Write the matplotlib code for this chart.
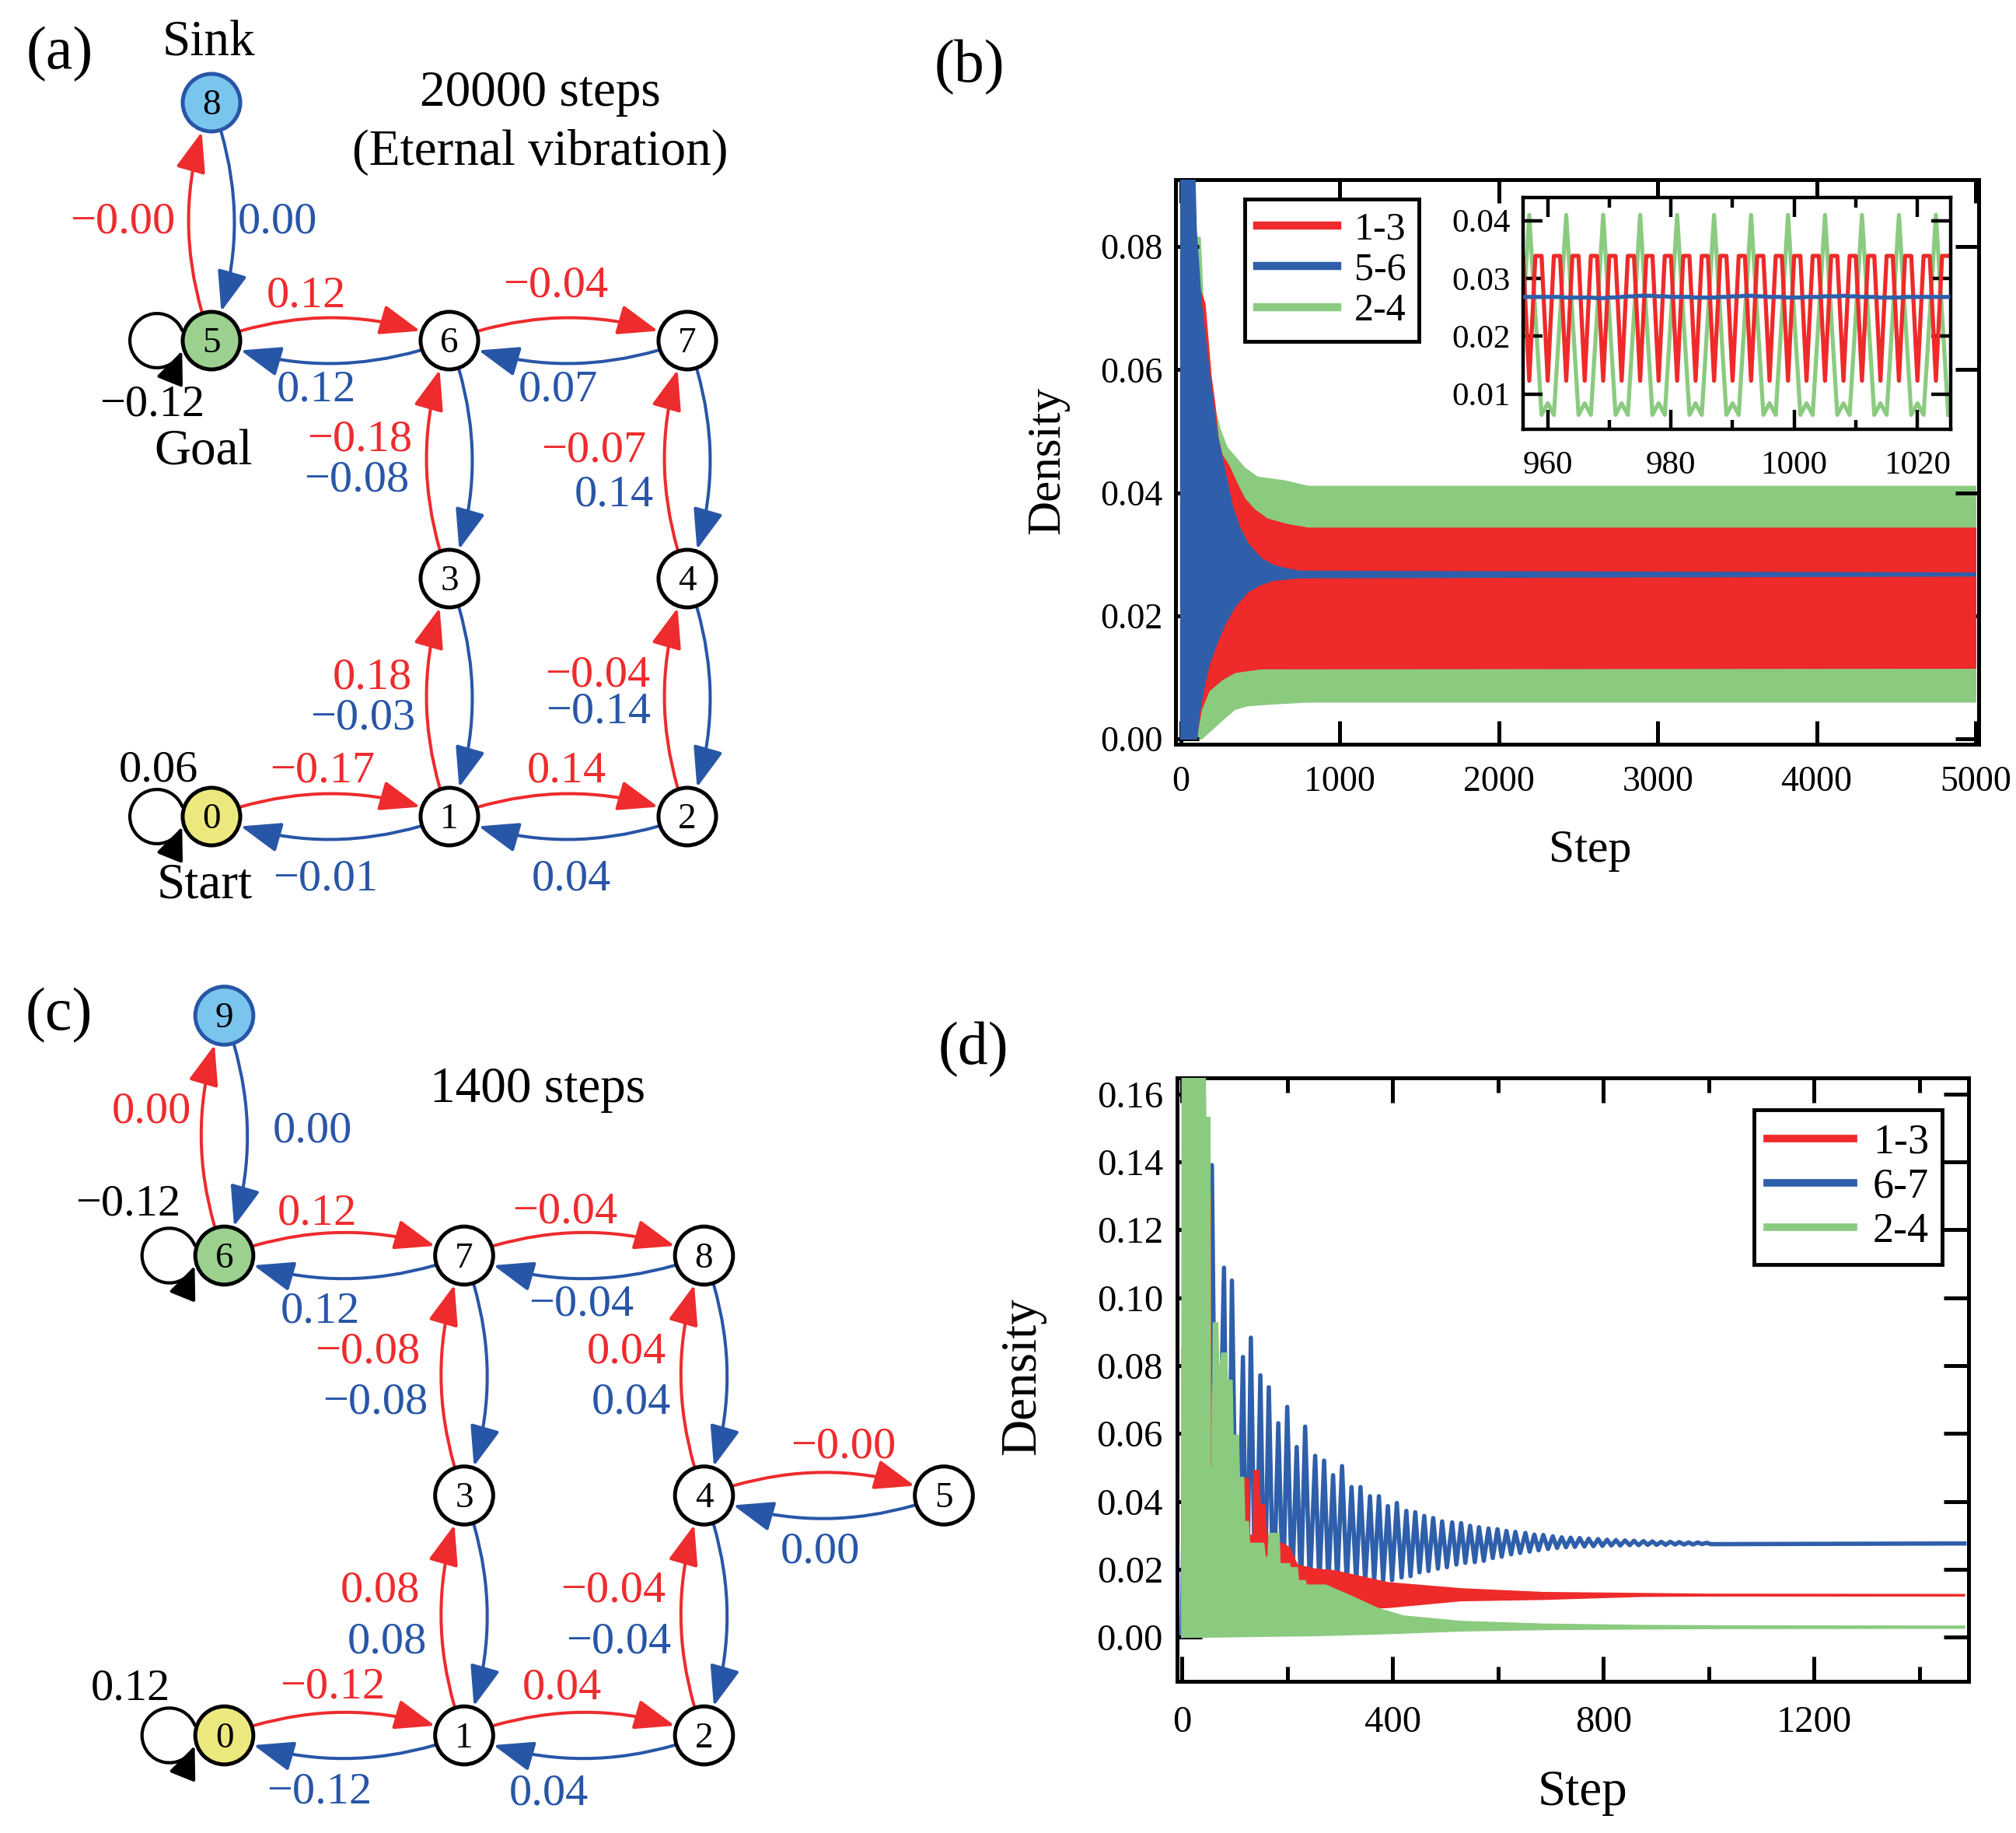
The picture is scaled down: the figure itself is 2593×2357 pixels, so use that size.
import numpy as np
import matplotlib
matplotlib.use('Agg')
import matplotlib.pyplot as plt
from matplotlib.patches import Circle, FancyArrowPatch
from matplotlib.path import Path
from matplotlib.transforms import Affine2D
from matplotlib.lines import Line2D
from matplotlib.ticker import FormatStrFormatter

plt.rcParams['font.family'] = ['Liberation Serif', 'DejaVu Serif']

# ------------------------------------------------------------------ data
# (a) network, 20000 steps: red = i -> j, blue = j -> i
a_edges = [(0, 1), (1, 2), (1, 3), (2, 4), (3, 6), (4, 7), (5, 6), (6, 7), (5, 8)]
a_red = [-0.17, 0.14, 0.18, -0.04, -0.18, -0.07, 0.12, -0.04, -0.0]
a_blue = [-0.01, 0.04, -0.03, -0.14, -0.08, 0.14, 0.12, 0.07, 0.0]
a_loops = [(0, 0.06), (5, -0.12)]

# (c) network, 1400 steps
c_edges = [(0, 1), (1, 2), (1, 3), (2, 4), (3, 7), (4, 8), (4, 5), (6, 7), (7, 8), (6, 9)]
c_red = [-0.12, 0.04, 0.08, -0.04, -0.08, 0.04, -0.0, 0.12, -0.04, 0.0]
c_blue = [-0.12, 0.04, 0.08, -0.04, -0.08, 0.04, 0.0, 0.12, -0.04, 0.0]
c_loops = [(0, 0.12), (6, -0.12)]

# (b) envelopes of the densely oscillating densities (step, density)
b_blue_up_x = [0, 83, 95, 127, 176, 225, 274, 323, 372, 421, 503, 584, 666, 748, 5000]
b_blue_up_y = [0.095, 0.095, 0.0827, 0.0707, 0.0599, 0.0497, 0.0437, 0.0377, 0.0341,
               0.0317, 0.0293, 0.0281, 0.0276, 0.0272, 0.0269]
b_blue_lo_x = [0, 100, 111, 143, 176, 225, 274, 339, 421, 503, 584, 748, 5000]
b_blue_lo_y = [0.0, 0.0, 0.0036, 0.0083, 0.012, 0.0155, 0.0185, 0.0215, 0.0239,
               0.0251, 0.0258, 0.0262, 0.0265]
b_red_up_x = [0, 100, 110, 150, 188, 213, 233, 258, 302, 355, 400, 462, 543, 666, 800, 5000]
b_red_up_y = [0.08, 0.08, 0.0737, 0.0707, 0.059, 0.0542, 0.0488, 0.0461, 0.0443, 0.0413,
              0.039, 0.0372, 0.0357, 0.0348, 0.0342, 0.0342]
b_red_lo_x = [0, 95, 127, 176, 258, 339, 503, 5000]
b_red_lo_y = [0.0, 0.0, 0.0047, 0.0078, 0.0096, 0.0108, 0.0114, 0.0115]
b_green_up_x = [0, 90, 120, 150, 200, 245, 290, 350, 400, 480, 650, 800, 5000]
b_green_up_y = [0.0, 0.0815, 0.0815, 0.065, 0.055, 0.0503, 0.0473, 0.0455, 0.044,
                0.0425, 0.0419, 0.041, 0.041]
b_green_lo_x = [0, 130, 258, 339, 421, 584, 800, 5000]
b_green_lo_y = [0.0, 0.0, 0.003, 0.0048, 0.0054, 0.0057, 0.006, 0.006]
b_legend = ['1-3', '5-6', '2-4']

# (b) inset, steps 956..1025
in_steps = np.arange(956, 1026)
in_red = [0.0339, 0.0123,
          0.0339, 0.0339, 0.0123, 0.0339, 0.0339, 0.0123,
          0.0339, 0.0339, 0.0123, 0.0339, 0.0339, 0.0123,
          0.0339, 0.0339, 0.0123, 0.0339, 0.0339, 0.0123,
          0.0339, 0.0339, 0.0123, 0.0339, 0.0339, 0.0123,
          0.0339, 0.0339, 0.0123, 0.0339, 0.0339, 0.0123,
          0.0339, 0.0339, 0.0123, 0.0339, 0.0339, 0.0123,
          0.0339, 0.0339, 0.0123, 0.0339, 0.0339, 0.0123,
          0.0339, 0.0339, 0.0123, 0.0339, 0.0339, 0.0123,
          0.0339, 0.0339, 0.0123, 0.0339, 0.0339, 0.0123,
          0.0339, 0.0339, 0.0123, 0.0339, 0.0339, 0.0123,
          0.0339, 0.0339, 0.0123, 0.0339, 0.0339, 0.0123,
          0.0339, 0.0339]
in_green = [0.0237,
            0.0410, 0.0237, 0.0064, 0.0084, 0.0064, 0.0237,
            0.0410, 0.0237, 0.0064, 0.0084, 0.0064, 0.0237,
            0.0410, 0.0237, 0.0064, 0.0084, 0.0064, 0.0237,
            0.0410, 0.0237, 0.0064, 0.0084, 0.0064, 0.0237,
            0.0410, 0.0237, 0.0064, 0.0084, 0.0064, 0.0237,
            0.0410, 0.0237, 0.0064, 0.0084, 0.0064, 0.0237,
            0.0410, 0.0237, 0.0064, 0.0084, 0.0064, 0.0237,
            0.0410, 0.0237, 0.0064, 0.0084, 0.0064, 0.0237,
            0.0410, 0.0237, 0.0064, 0.0084, 0.0064, 0.0237,
            0.0410, 0.0237, 0.0064, 0.0084, 0.0064, 0.0237,
            0.0410, 0.0237, 0.0064, 0.0084, 0.0064, 0.0237,
            0.0410, 0.0237, 0.0064]
in_blue = [0.0268, 0.0268, 0.0268, 0.0268, 0.0268, 0.0268, 0.0268, 0.0267,
           0.0267, 0.0267, 0.0267, 0.0267, 0.0266, 0.0266, 0.0267, 0.0267,
           0.0268, 0.0269, 0.0269, 0.0270, 0.0270, 0.0270, 0.0269, 0.0269,
           0.0268, 0.0268, 0.0268, 0.0268, 0.0267, 0.0267, 0.0267, 0.0267,
           0.0268, 0.0268, 0.0269, 0.0269, 0.0270, 0.0270, 0.0269, 0.0269,
           0.0268, 0.0268, 0.0268, 0.0267, 0.0267, 0.0267, 0.0268, 0.0268,
           0.0268, 0.0269, 0.0269, 0.0269, 0.0270, 0.0269, 0.0269, 0.0268,
           0.0268, 0.0268, 0.0267, 0.0267, 0.0267, 0.0267, 0.0268, 0.0268,
           0.0268, 0.0268, 0.0268, 0.0268, 0.0268, 0.0268]

# (d) 6-7 density: turning points of the decaying oscillation
d_blue_x = [0, 8, 14, 21, 29, 40, 48, 57, 66, 80,
            88, 95, 105, 116, 123, 131, 140, 149, 157, 165,
            174, 183, 192, 200, 209, 218, 226, 234, 243, 253,
            261, 270, 278, 287, 295, 304, 313, 322, 331, 339,
            348, 357, 365, 374, 382, 391, 399, 408, 417, 426,
            434, 443, 451, 460, 468, 477, 486, 494, 503, 513,
            521, 530, 538, 547, 556, 564, 573, 582, 590, 599,
            607, 616, 625, 633, 642, 652, 660, 669, 677, 686,
            695, 704, 712, 721, 729, 738, 746, 755, 764, 772,
            781, 790, 798, 807, 815, 824, 832, 841, 850, 858,
            867, 876, 884, 893, 901, 910, 918, 927, 936, 944,
            953, 962, 970, 979, 987, 996, 1004, 1485]
d_blue_y = [0.0, 0.09, 0.002, 0.175, 0.003, 0.15, 0.002, 0.139, 0.003, 0.1088,
            0.002, 0.105, 0.002, 0.0825, 0.001, 0.0882, 0.001, 0.0771, 0.006, 0.0736,
            0.009, 0.063, 0.011, 0.0678, 0.013, 0.056, 0.014, 0.062, 0.0148, 0.0534,
            0.0153, 0.052, 0.0155, 0.0477, 0.0157, 0.0504, 0.016, 0.0442, 0.016, 0.0442,
            0.0162, 0.0415, 0.0164, 0.0415, 0.0166, 0.0386, 0.0168, 0.0395, 0.0176, 0.0372,
            0.018, 0.0368, 0.0191, 0.0357, 0.0195, 0.0351, 0.0202, 0.0341, 0.0206, 0.0338,
            0.0214, 0.0336, 0.0219, 0.0328, 0.0221, 0.0324, 0.0225, 0.032, 0.0233, 0.0318,
            0.0237, 0.0313, 0.0244, 0.031, 0.0248, 0.0307, 0.0252, 0.0302, 0.0256, 0.0301,
            0.026, 0.0297, 0.0263, 0.0294, 0.0265, 0.0293, 0.0266, 0.0292, 0.0267, 0.029,
            0.0268, 0.0289, 0.0269, 0.0287, 0.027, 0.0286, 0.027, 0.0285, 0.0271, 0.0284,
            0.0271, 0.0283, 0.0272, 0.0282, 0.0272, 0.0281, 0.0272, 0.0281, 0.0273, 0.028,
            0.0273, 0.0279, 0.0273, 0.0279, 0.0274, 0.0278, 0.0274, 0.0276]
# (d) 1-3 and 2-4 densities: envelopes of the fast oscillation
d_red_up_x = [0, 1, 3, 52, 54, 56, 115, 117, 126, 128,
              136, 137, 146, 148, 157, 160, 184, 204, 219, 253,
              290, 391, 530, 686, 876, 999, 1485]
d_red_up_y = [0.0, 0.085, 0.01, 0.01, 0.13, 0.02, 0.02, 0.0467, 0.0467, 0.03,
              0.03, 0.049, 0.049, 0.039, 0.039, 0.03, 0.028, 0.0264, 0.0212, 0.0200,
              0.0195, 0.016, 0.0142, 0.0131, 0.0128, 0.0126, 0.0125]
d_red_lo_x = [0, 150, 200, 250, 391, 530, 686, 876, 999, 1485]
d_red_lo_y = [0.0, 0.001, 0.004, 0.0079, 0.0088, 0.0108, 0.0112, 0.0121, 0.0122, 0.0122]
d_green_up_x = [0, 1, 44, 45, 53, 54, 58, 60, 68, 70, 76,
                85, 86, 95, 97, 107, 109, 117, 119, 126, 128,
                155, 158, 164, 166, 184, 186, 204, 206, 219, 221,
                234, 236, 273, 322, 371, 420, 530, 686, 876, 999, 1485]
d_green_up_y = [0.0, 0.17, 0.17, 0.153, 0.153, 0.05, 0.05, 0.0925, 0.0925, 0.077, 0.0836,
                0.0836, 0.0756, 0.0756, 0.0594, 0.0594, 0.047, 0.047, 0.034, 0.034, 0.0276,
                0.0276, 0.0235, 0.0235, 0.0305, 0.0305, 0.0216, 0.0216, 0.0204, 0.0204, 0.0166,
                0.0166, 0.0153, 0.0153, 0.012, 0.0085, 0.0062, 0.0046, 0.0038, 0.0034, 0.0033, 0.0032]
d_green_lo_x = [0, 250, 391, 530, 686, 876, 999, 1485]
d_green_lo_y = [0.0, 0.0005, 0.0011, 0.0019, 0.0023, 0.0025, 0.0026, 0.0027]
d_legend = ['1-3', '6-7', '2-4']

# ------------------------------------------------------------------ layout / style
W, H = 2593, 2357
RED = '#ee2b2d'
BLUE = '#2856a7'
P_RED = '#ee2a2a'
P_BLUE = '#2f5faa'
P_GREEN = '#8bcb80'
N_GREEN = '#9bd08f'
N_YELLOW = '#ebe97e'
N_SKY = '#7ac5ee'

NODE_R = 0.121           # grid units
NODE_SHRINK = 28.5       # points
EDGE_FS = 42
NODE_FS = 34
TITLE_FS = 47
PANEL_FS = 56

a_grid = {0: (0, 0), 1: (1, 0), 2: (2, 0), 3: (1, 1), 4: (2, 1),
          5: (0, 2), 6: (1, 2), 7: (2, 2), 8: (0, 3)}
a_fill = {0: N_YELLOW, 5: N_GREEN, 8: N_SKY}
a_red_pos = [(0.467, 0.144), (1.493, 0.144), (0.676, 0.536), (1.624, 0.549), (0.624, 1.536),
             (1.608, 1.493), (0.399, 2.142), (1.448, 2.186), (-0.372, 2.454)]
a_blue_pos = [(0.480, -0.310), (1.513, -0.310), (0.637, 0.369), (1.627, 0.395), (0.611, 1.369),
              (1.693, 1.304), (0.441, 1.748), (1.458, 1.748), (0.278, 2.454)]
a_loop_pos = [(-0.222, 0.150), (-0.248, 1.686)]

c_grid = {0: (0, 0), 1: (1, 0), 2: (2, 0), 3: (1, 1), 4: (2, 1), 5: (3, 1),
          6: (0, 2), 7: (1, 2), 8: (2, 2), 9: (0, 3)}
c_fill = {0: N_YELLOW, 6: N_GREEN, 9: N_SKY}
c_red_pos = [(0.452, 0.155), (1.408, 0.151), (0.650, 0.559), (1.622, 0.559), (0.596, 1.553),
             (1.677, 1.554), (2.582, 1.157), (0.387, 2.131), (1.421, 2.136), (-0.303, 2.553)]
c_blue_pos = [(0.397, -0.282), (1.352, -0.287), (0.679, 0.345), (1.645, 0.345), (0.630, 1.342),
              (1.697, 1.342), (2.484, 0.719), (0.400, 1.721), (1.490, 1.752), (0.368, 2.472)]
c_loop_pos = [(-0.391, 0.149), (-0.400, 2.167)]


def rect(l, t, r, b):
    return [l / W, 1 - b / H, (r - l) / W, (b - t) / H]


def fx(x):
    return x / W


def fy(y):
    return 1 - y / H


def fmt(w):
    return f'{w:.2f}'.replace('-', '\u2212')


fig = plt.figure(figsize=(W / 100, H / 100), dpi=100)


def graph_axes(box, origin, step):
    l, t, r, b = box
    ax = fig.add_axes(rect(l, t, r, b))
    ax.set_xlim((l - origin[0]) / step, (r - origin[0]) / step)
    ax.set_ylim((origin[1] - b) / step, (origin[1] - t) / step)
    ax.axis('off')
    return ax


def edge_arrow(ax, p, q, color):
    ax.add_patch(FancyArrowPatch(p, q, connectionstyle='arc3,rad=-0.19',
                                 arrowstyle='-|>,head_length=3.2,head_width=1.2',
                                 mutation_scale=10, color=color, lw=2.9,
                                 shrinkA=NODE_SHRINK, shrinkB=NODE_SHRINK, zorder=2))


def self_loop(ax, p):
    path = Path.arc(22, 338)
    path = Affine2D().scale(0.114).translate(p[0] - 0.229, p[1]).transform_path(path)
    ax.add_patch(FancyArrowPatch(path=path, arrowstyle='-|>,head_length=2.6,head_width=1.1',
                                 mutation_scale=10, color='k', lw=3.0, zorder=2))


def draw_graph(ax, grid, fills, edges, red_w, blue_w, red_pos, blue_pos, loops, loop_pos, sink):
    for (i, j), wr, wb, pr, pb in zip(edges, red_w, blue_w, red_pos, blue_pos):
        edge_arrow(ax, grid[i], grid[j], RED)
        edge_arrow(ax, grid[j], grid[i], BLUE)
        ax.text(pr[0], pr[1], fmt(wr), color=RED, fontsize=EDGE_FS, ha='center', va='baseline')
        ax.text(pb[0], pb[1], fmt(wb), color=BLUE, fontsize=EDGE_FS, ha='center', va='baseline')
    for (n, w), pos in zip(loops, loop_pos):
        self_loop(ax, grid[n])
        ax.text(pos[0], pos[1], fmt(w), color='k', fontsize=EDGE_FS, ha='center', va='baseline')
    for n, (x, y) in grid.items():
        ec = BLUE if n == sink else 'k'
        ax.add_patch(Circle((x, y), NODE_R, fc=fills.get(n, 'white'), ec=ec, lw=3.6, zorder=4))
        ax.text(x, y - 0.05, str(n), fontsize=NODE_FS, ha='center', va='baseline', zorder=5)


# ---- (a)
ax_a = graph_axes((0, 0, 1250, 1200), (272, 1050), 306)
draw_graph(ax_a, a_grid, a_fill, a_edges, a_red, a_blue, a_red_pos, a_blue_pos,
           a_loops, a_loop_pos, sink=8)
ax_a.text(-0.637, 3.144, '(a)', fontsize=PANEL_FS, ha='center', va='baseline')
ax_a.text(-0.013, 3.199, 'Sink', fontsize=TITLE_FS, ha='center', va='baseline')
ax_a.text(-0.033, 1.480, 'Goal', fontsize=TITLE_FS, ha='center', va='baseline')
ax_a.text(-0.029, -0.343, 'Start', fontsize=TITLE_FS, ha='center', va='baseline')
ax_a.text(1.382, 2.987, '20000 steps', fontsize=TITLE_FS, ha='center', va='baseline')
ax_a.text(1.382, 2.737, '(Eternal vibration)', fontsize=TITLE_FS, ha='center', va='baseline')

# ---- (c)
ax_c = graph_axes((0, 1200, 1300, 2357), (288.5, 2231.5), 308.5)
draw_graph(ax_c, c_grid, c_fill, c_edges, c_red, c_blue, c_red_pos, c_blue_pos,
           c_loops, c_loop_pos, sink=9)
ax_c.text(-0.689, 2.942, '(c)', fontsize=PANEL_FS, ha='center', va='baseline')
ax_c.text(1.308, 2.639, '1400 steps', fontsize=TITLE_FS, ha='center', va='baseline')


def band(ax, ux, uy, lx, ly, color, z):
    xs = np.concatenate([ux, lx[::-1]])
    ys = np.concatenate([uy, ly[::-1]])
    ax.fill(xs, ys, facecolor=color, edgecolor=color, lw=1.5, zorder=z)


def style(ax, lsize, major, minor, padx, pady, lw=3.6):
    ax.tick_params(which='both', direction='in', top=True, right=True, width=lw,
                   labelsize=lsize)
    ax.tick_params(which='major', length=major)
    ax.tick_params(which='minor', length=minor)
    ax.tick_params(axis='x', pad=padx)
    ax.tick_params(axis='y', pad=pady)
    for s in ax.spines.values():
        s.set_linewidth(lw)


def legend(ax, labels, anchor, fs, lw):
    hs = [Line2D([], [], color=c, lw=lw) for c in (P_RED, P_BLUE, P_GREEN)]
    lg = ax.legend(hs, labels, loc='upper left', bbox_to_anchor=anchor, borderaxespad=0,
                   fontsize=fs, handlelength=2.05, handletextpad=0.45, borderpad=0.32,
                   labelspacing=0.12, fancybox=False, edgecolor='k', framealpha=1)
    lg.get_frame().set_linewidth(3.5)
    lg.set_zorder(10)


# ---- (b)
ax_b = fig.add_axes(rect(1512, 231, 2545, 957))
band(ax_b, b_green_up_x, b_green_up_y, b_green_lo_x, b_green_lo_y, P_GREEN, 1)
band(ax_b, b_red_up_x, b_red_up_y, b_red_lo_x, b_red_lo_y, P_RED, 2)
band(ax_b, b_blue_up_x, b_blue_up_y, b_blue_lo_x, b_blue_lo_y, P_BLUE, 3)
ax_b.set_xlim(-34, 5020)
ax_b.set_ylim(-0.0009, 0.0909)
ax_b.set_xticks([0, 1000, 2000, 3000, 4000, 5000])
ax_b.set_yticks([0.0, 0.02, 0.04, 0.06, 0.08])
ax_b.yaxis.set_major_formatter(FormatStrFormatter('%.2f'))
style(ax_b, 33, 21.6, 11, 20, 12)
legend(ax_b, b_legend, (0.0862, 0.9656), 36, 7.5)

ax_in = fig.add_axes(rect(1959, 254, 2509, 552))
ax_in.plot(in_steps, in_green, color=P_GREEN, lw=3.8, zorder=1)
ax_in.plot(in_steps, in_red, color=P_RED, lw=3.8, zorder=2)
ax_in.plot(in_steps, in_blue, color=P_BLUE, lw=3.8, zorder=3)
ax_in.set_xlim(956.0, 1025.4)
ax_in.set_ylim(0.0039, 0.0440)
ax_in.set_xticks([960, 980, 1000, 1020])
ax_in.set_xticks([970, 990, 1010], minor=True)
ax_in.set_yticks([0.01, 0.02, 0.03, 0.04])
ax_in.yaxis.set_major_formatter(FormatStrFormatter('%.2f'))
style(ax_in, 31, 18, 9, 20, 12, lw=3.2)

fig.text(fx(1247), fy(105), '(b)', fontsize=PANEL_FS, ha='center', va='baseline')
fig.text(fx(1362), fy(592), 'Density', fontsize=44, rotation=90, rotation_mode='anchor',
         ha='center', va='baseline')
fig.text(fx(2045), fy(1108), 'Step', fontsize=43, ha='center', va='baseline')

# ---- (d)
ax_d = fig.add_axes(rect(1514, 1386, 2532, 2162))
ax_d.plot(d_blue_x, d_blue_y, color=P_BLUE, lw=4.0, zorder=1)
band(ax_d, d_red_up_x, d_red_up_y, d_red_lo_x, d_red_lo_y, P_RED, 2)
band(ax_d, d_green_up_x, d_green_up_y, d_green_lo_x, d_green_lo_y, P_GREEN, 3)
ax_d.set_xlim(-9, 1493)
ax_d.set_ylim(-0.013, 0.1647)
ax_d.set_xticks([0, 400, 800, 1200])
ax_d.set_xticks([200, 600, 1000, 1400], minor=True)
ax_d.set_yticks([0.0, 0.02, 0.04, 0.06, 0.08, 0.10, 0.12, 0.14, 0.16])
ax_d.yaxis.set_major_formatter(FormatStrFormatter('%.2f'))
style(ax_d, 35, 23, 13.7, 22, 13)
legend(ax_d, d_legend, (0.729, 0.947), 39, 7)

fig.text(fx(1252), fy(1368), '(d)', fontsize=PANEL_FS, ha='center', va='baseline')
fig.text(fx(1331), fy(1770), 'Density', fontsize=47, rotation=90, rotation_mode='anchor',
         ha='center', va='baseline')
fig.text(fx(2036), fy(2321), 'Step', fontsize=47, ha='center', va='baseline')

fig.savefig('out.png', dpi=100)
